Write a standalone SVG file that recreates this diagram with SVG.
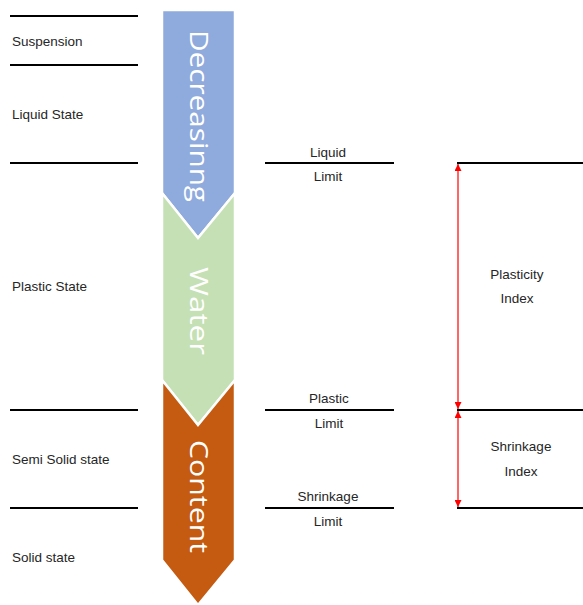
<svg xmlns="http://www.w3.org/2000/svg" width="583" height="605" viewBox="0 0 583 605">
<defs>
<marker id="ah" viewBox="0 0 10 10" refX="10" refY="5" markerWidth="8" markerHeight="7" markerUnits="userSpaceOnUse" orient="auto-start-reverse">
<path d="M0,0 L10,5 L0,10 z" fill="#FF0000"/>
</marker>
<style>
.ln{stroke:#000;stroke-width:2;fill:none}
.lbl{font-family:"Liberation Sans",Arial,sans-serif;font-size:13.5px;fill:#262626}
.mid{text-anchor:middle}
.chev{stroke:#fff;stroke-width:2.5;stroke-linejoin:miter}
.ct{font-family:"Open Sans","Liberation Sans",sans-serif;font-size:25px;fill:#fff}
.arr{stroke:#FF0000;stroke-width:1.2;fill:none}
</style>
</defs>
<rect width="583" height="605" fill="#fff"/>
<g id="chevron-blue">
<polygon class="chev" points="162,10 235,10 235,193 198,238 162,193" fill="#8FAADC"/>
<text class="ct" transform="translate(190,30) rotate(90)" textLength="172" lengthAdjust="spacingAndGlyphs">Decreasinng</text>
</g>
<g id="chevron-green">
<polygon class="chev" points="162,193 198,238 235,193 235,380 198,425 162,380" fill="#C5E0B4"/>
<text class="ct" transform="translate(190,267) rotate(90)" textLength="88" lengthAdjust="spacingAndGlyphs">Water</text>
</g>
<g id="chevron-orange">
<polygon class="chev" points="162,380 198,425 235,380 235,560 198,605 162,560" fill="#C55A11"/>
<text class="ct" transform="translate(190,440) rotate(90)" textLength="113" lengthAdjust="spacingAndGlyphs">Content</text>
</g>
<g id="left-states">
<line class="ln" x1="10" y1="16" x2="138" y2="16"/>
<line class="ln" x1="10" y1="65" x2="138" y2="65"/>
<line class="ln" x1="10" y1="163" x2="138" y2="163"/>
<line class="ln" x1="10" y1="410" x2="138" y2="410"/>
<line class="ln" x1="10" y1="508" x2="138" y2="508"/>
<text class="lbl" x="12" y="46">Suspension</text>
<text class="lbl" x="12" y="119">Liquid State</text>
<text class="lbl" x="12" y="291">Plastic State</text>
<text class="lbl" x="12" y="464">Semi Solid state</text>
<text class="lbl" x="12" y="562">Solid state</text>
</g>
<g id="liquid-limit">
<line class="ln" x1="265" y1="163" x2="394" y2="163"/>
<text class="lbl mid" x="328" y="157">Liquid</text>
<text class="lbl mid" x="328" y="181">Limit</text>
</g>
<g id="plastic-limit">
<line class="ln" x1="265" y1="410" x2="394" y2="410"/>
<text class="lbl mid" x="329" y="403">Plastic</text>
<text class="lbl mid" x="329" y="428">Limit</text>
</g>
<g id="shrinkage-limit">
<line class="ln" x1="265" y1="508" x2="394" y2="508"/>
<text class="lbl mid" x="328" y="501">Shrinkage</text>
<text class="lbl mid" x="328" y="526">Limit</text>
</g>
<g id="right-levels">
<line class="ln" x1="457" y1="163" x2="583" y2="163"/>
<line class="ln" x1="457" y1="410" x2="583" y2="410"/>
<line class="ln" x1="457" y1="508" x2="583" y2="508"/>
</g>
<g id="plasticity-index">
<text class="lbl mid" x="517" y="279">Plasticity</text>
<text class="lbl mid" x="517" y="303">Index</text>
</g>
<g id="shrinkage-index">
<text class="lbl mid" x="521" y="451">Shrinkage</text>
<text class="lbl mid" x="521" y="476">Index</text>
</g>
<g id="connectors">
<line class="arr" x1="458" y1="164" x2="458" y2="409" marker-start="url(#ah)" marker-end="url(#ah)"/>
<line class="arr" x1="458" y1="411" x2="458" y2="507" marker-start="url(#ah)" marker-end="url(#ah)"/>
</g>
</svg>
